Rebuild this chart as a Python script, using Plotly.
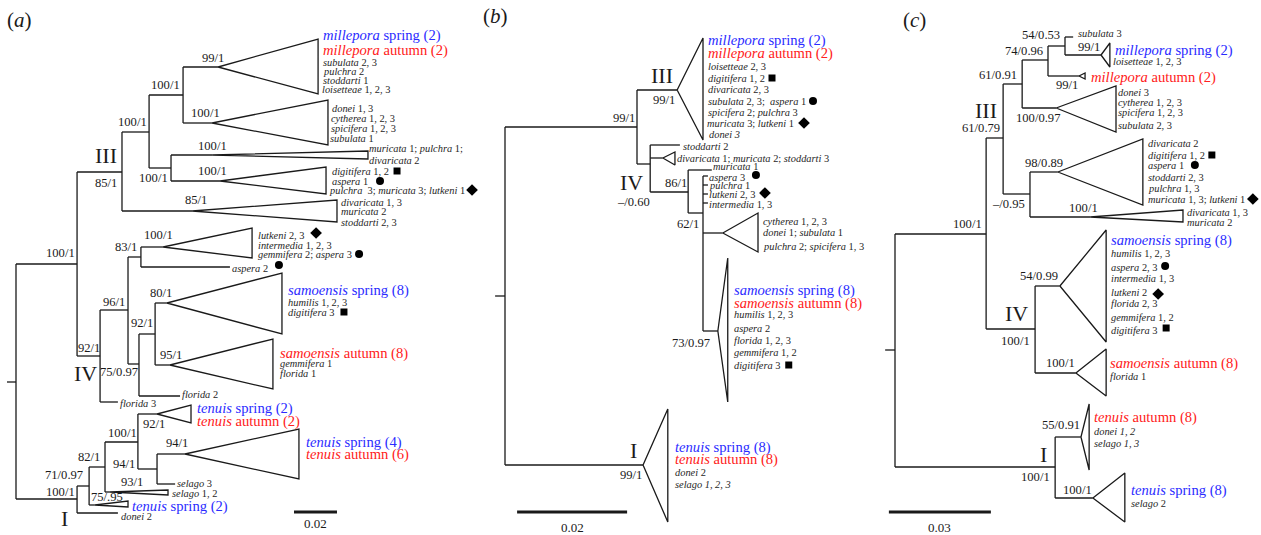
import plotly.graph_objects as go
from collections import defaultdict

FONT = "Liberation Serif, Times New Roman, serif"
BLUE = "#2b2bff"
RED = "#ff2020"
INK = "#1a1a1a"

# ---------------------------------------------------------------------------
# Panel (a) - node table: (id, parent, depth in substitutions/site, row)
A_NODES = [
    ("r", None, 0.0, 382),
    ("A1", "r", 0.0284, 264),
    ("III", "A1", 0.0493, 172),
    ("B", "III", 0.0619, 132),
    ("C", "B", 0.0777, 95),
    ("mil", "C", 0.0940, 67),
    ("don", "C", 0.0912, 123),
    ("D", "B", 0.0721, 168),
    ("mur", "D", 0.0912, 155),
    ("dig", "D", 0.0949, 181),
    ("div", "III", 0.0819, 211),
    ("E", "A1", 0.0391, 356),
    ("F", "E", 0.0521, 310),
    ("n83", "F", 0.0581, 257),
    ("lut", "n83", 0.0684, 247),
    ("asp2", "n83", 0.0995, 267),
    ("G", "F", 0.0572, 364),
    ("H", "G", 0.0647, 334),
    ("sams", "H", 0.0702, 303),
    ("sama", "H", 0.0716, 365),
    ("flo2", "G", 0.0763, 396),
    ("flo3", "E", 0.0474, 402),
    ("I", "r", 0.0284, 499),
    ("J", "I", 0.0340, 486),
    ("K", "J", 0.0414, 467),
    ("L", "K", 0.0567, 442),
    ("ten2", "L", 0.0656, 414),
    ("M", "L", 0.0656, 469),
    ("ten4", "M", 0.0786, 454),
    ("sel3", "M", 0.0740, 484),
    ("sel12", "K", 0.0437, 492),
    ("tsp2", "J", 0.0367, 505),
    ("don2", "I", 0.0474, 513),
]
# collapsed clades: (id, tip depth, top row, bottom row)
A_CLADES = [
    ("mil", 0.1405, 39, 94),
    ("don", 0.1451, 100, 145),
    ("mur", 0.1637, 151, 159),
    ("dig", 0.1442, 167, 194),
    ("div", 0.1493, 200, 222),
    ("lut", 0.1098, 228, 258),
    ("sams", 0.1237, 273, 334),
    ("sama", 0.1195, 339, 389),
    ("ten2", 0.0814, 405, 423),
    ("ten4", 0.1316, 429, 479),
    ("sel12", 0.0707, 490, 495),
    ("tsp2", 0.0521, 501, 507),
]
A_SUPPORT = [
    ("mil", "99/1", 6, -9), ("C", "100/1", -3, -10), ("don", "100/1", 8, -10),
    ("B", "100/1", -2, -10), ("III", "III", -5, -17), ("III", "85/1", -5, 11),
    ("mur", "100/1", 15, -9), ("D", "100/1", -3, 10), ("dig", "100/1", 7, -10),
    ("div", "85/1", 15, -11), ("A1", "100/1", -2, -11), ("n83", "83/1", -4, -10),
    ("lut", "100/1", 10, -12), ("F", "96/1", -3, -8), ("E", "92/1", 0, -8),
    ("E", "IV", -3, 17), ("G", "75/0.97", -1, 8), ("H", "92/1", -2, -11),
    ("sams", "80/1", 5, -10), ("sama", "95/1", 12, -10), ("I", "100/1", -2, -7),
    ("J", "71/0.97", -6, -11), ("I", "I", -9, 19), ("K", "82/1", -5, -10),
    ("L", "100/1", -1, -9), ("ten2", "92/1", 8, 10), ("M", "94/1", -22, -5),
    ("ten4", "94/1", 3, -11), ("sel12", "93/1", 33, -10), ("tsp2", "75/.95", 28, -8),
]
A_TIPS = [
    ("mil", "<i>millepora</i> spring (2)", 5, 35, "B"),
    ("mil", "<i>millepora</i> autumn (2)", 5, 50, "R"),
    ("mil", "<i>subulata</i> 2, 3", 5, 62, "s"),
    ("mil", "<i>pulchra</i> 2", 5, 71, "s"),
    ("mil", "<i>stoddarti</i> 1", 5, 80, "s"),
    ("mil", "<i>loisetteae</i> 1, 2, 3", 4, 89, "s"),
    ("don", "<i>donei</i> 1, 3", 4, 108, "s"),
    ("don", "<i>cytherea</i> 1, 2, 3", 3, 118, "s"),
    ("don", "<i>spicifera</i> 1, 2, 3", 3, 128, "s"),
    ("don", "<i>subulata</i> 1", 2, 138, "s"),
    ("mur", "<i>muricata</i> 1; <i>pulchra</i> 1;", 1, 148, "s"),
    ("mur", "<i>divaricata</i> 2", 1, 160, "s"),
    ("dig", "<i>digitifera</i> 1, 2", 6, 171, "s"),
    ("dig", "<i>aspera</i> 1", 6, 181, "s"),
    ("dig", "<i>pulchra</i>  3; <i>muricata</i> 3; <i>lutkeni</i> 1", 3, 190, "s"),
    ("div", "<i>divaricata</i> 1, 3", 4, 202, "s"),
    ("div", "<i>muricata</i> 2", 4, 211, "s"),
    ("div", "<i>stoddarti</i> 2, 3", 4, 222, "s"),
    ("lut", "<i>lutkeni</i> 2, 3", 6, 235, "s"),
    ("lut", "<i>intermedia</i> 1, 2, 3", 6, 245, "s"),
    ("lut", "<i>gemmifera</i> 2; <i>aspera</i> 3", 6, 254, "s"),
    ("asp2", "<i>aspera</i> 2", 2, 268, "s"),
    ("sams", "<i>samoensis</i> spring (8)", 6, 290, "B"),
    ("sams", "<i>humilis</i> 1, 2, 3", 6, 302, "s"),
    ("sams", "<i>digitifera</i> 3", 6, 312, "s"),
    ("sama", "<i>samoensis</i> autumn (8)", 7, 353, "R"),
    ("sama", "<i>gemmifera</i> 1", 7, 363, "s"),
    ("sama", "<i>florida</i> 1", 7, 373, "s"),
    ("flo2", "<i>florida</i> 2", 2, 394, "s"),
    ("flo3", "<i>florida</i> 3", 2, 403, "s"),
    ("ten2", "<i>tenuis</i> spring (2)", 6, 408, "B"),
    ("ten2", "<i>tenuis</i> autumn (2)", 6, 421, "R"),
    ("ten4", "<i>tenuis</i> spring (4)", 7, 442, "B"),
    ("ten4", "<i>tenuis</i> autumn (6)", 7, 454, "R"),
    ("sel3", "<i>selago</i> 3", 2, 483, "s"),
    ("sel12", "<i>selago</i> 1, 2", 4, 493, "s"),
    ("tsp2", "<i>tenuis</i> spring (2)", 4, 506, "B"),
    ("don2", "<i>donei</i> 2", 3, 516, "s"),
]
A_SYMBOLS = [
    ("dig", 71, 171, "square"), ("dig", 54, 181, "circle"), ("dig", 146, 190, "diamond"),
    ("lut", 64, 233, "diamond"), ("lut", 107, 254, "circle"),
    ("asp2", 49, 265, "circle"), ("sams", 62, 312, "square"),
]

# ---------------------------------------------------------------------------
# Panel (b)
B_NODES = [
    ("r", None, 0.0, 296),
    ("N", "r", 0.0240, 127),
    ("mil", "N", 0.0313, 90),
    ("O", "N", 0.0264, 164),
    ("sto2", "O", 0.0318, 145),
    ("divb", "O", 0.0287, 158),
    ("P", "O", 0.0333, 192),
    ("mur1", "P", 0.0376, 170),
    ("Q", "P", 0.0360, 213),
    ("asp3", "Q", 0.0369, 176),
    ("pul1", "Q", 0.0369, 185),
    ("lut23", "Q", 0.0369, 194),
    ("int13", "Q", 0.0369, 203),
    ("cyt", "Q", 0.0396, 233),
    ("sam", "Q", 0.0387, 331),
    ("ten", "r", 0.0251, 465),
]
B_CLADES = [
    ("mil", 0.0360, 38, 140),
    ("divb", 0.0309, 152, 165),
    ("cyt", 0.0460, 213, 252),
    ("sam", 0.0405, 258, 402),
    ("ten", 0.0296, 409, 522),
]
B_SUPPORT = [
    ("N", "99/1", -2, -9), ("mil", "III", -4, -15), ("mil", "99/1", -2, 10),
    ("O", "IV", -7, 18), ("O", "\u2013/0.60", 0, 38), ("P", "86/1", -1, -9),
    ("Q", "62/1", -4, 11), ("sam", "73/0.97", -8, 12), ("ten", "I", -6, -15),
    ("ten", "99/1", -1, 10),
]
B_TIPS = [
    ("mil", "<i>millepora</i> spring (2)", 5, 40, "B"),
    ("mil", "<i>millepora</i> autumn (2)", 5, 53, "R"),
    ("mil", "<i>loisetteae</i> 2, 3", 5, 66, "s"),
    ("mil", "<i>digitifera</i> 1, 2", 5, 78, "s"),
    ("mil", "<i>divaricata</i> 2, 3", 5, 89, "s"),
    ("mil", "<i>subulata</i> 2, 3;  <i>aspera</i> 1", 5, 101, "s"),
    ("mil", "<i>spicifera</i> 2; <i>pulchra</i> 3", 5, 112, "s"),
    ("mil", "<i>muricata</i> 3; <i>lutkeni</i> 1", 4, 123, "s"),
    ("mil", "<i>donei 3</i>", 6, 134, "s"),
    ("sto2", "<i>stoddarti</i> 2", 3, 146, "s"),
    ("divb", "<i>divaricata</i> 1; <i>muricata</i> 2; <i>stoddarti</i> 3", 2, 158, "s"),
    ("mur1", "<i>muricata</i> 1", 1, 166, "s"),
    ("asp3", "<i>aspera</i> 3", 1, 177, "s"),
    ("pul1", "<i>pulchra</i> 1", 1, 185, "s"),
    ("lut23", "<i>lutkeni</i> 2, 3", 1, 194, "s"),
    ("int13", "<i>intermedia</i> 1, 3", 1, 204, "s"),
    ("cyt", "<i>cytherea</i> 1, 2, 3", 5, 221, "s"),
    ("cyt", "<i>donei</i> 1; <i>subulata</i> 1", 5, 232, "s"),
    ("cyt", "<i>pulchra</i> 2; <i>spicifera</i> 1, 3", 5, 246, "s"),
    ("sam", "<i>samoensis</i> spring (8)", 6, 290, "B"),
    ("sam", "<i>samoensis</i> autumn (8)", 6, 303, "R"),
    ("sam", "<i>humilis</i> 1, 2, 3", 6, 314, "s"),
    ("sam", "<i>aspera</i> 2", 6, 328, "s"),
    ("sam", "<i>florida</i> 1, 2, 3", 6, 340, "s"),
    ("sam", "<i>gemmifera</i> 1, 2", 6, 352, "s"),
    ("sam", "<i>digitifera</i> 3", 6, 365, "s"),
    ("ten", "<i>tenuis</i> spring (8)", 7, 447, "B"),
    ("ten", "<i>tenuis</i> autumn (8)", 7, 459, "R"),
    ("ten", "<i>donei</i> 2", 7, 472, "s"),
    ("ten", "<i>selago 1, 2, 3</i>", 7, 484, "s"),
]
B_SYMBOLS = [
    ("mil", 69, 78, "square"), ("mil", 110, 101, "circle"), ("mil", 101, 123, "diamond"),
    ("asp3", 48, 175, "circle"), ("lut23", 57, 193, "diamond"), ("sam", 61, 365, "square"),
]

# ---------------------------------------------------------------------------
# Panel (c)
C_NODES = [
    ("r", None, 0.0, 350),
    ("R", "r", 0.0268, 234),
    ("S", "R", 0.0318, 138),
    ("T", "S", 0.0374, 84),
    ("U", "T", 0.0450, 60),
    ("V", "U", 0.0500, 46),
    ("sub3", "V", 0.0524, 37),
    ("mils", "V", 0.0606, 55),
    ("mila", "U", 0.0541, 76),
    ("donc", "T", 0.0474, 108),
    ("W", "S", 0.0397, 194),
    ("divc", "W", 0.0479, 172),
    ("divm", "W", 0.0574, 217),
    ("X", "R", 0.0412, 329),
    ("samsc", "X", 0.0485, 286),
    ("samac", "X", 0.0532, 373),
    ("Y", "r", 0.0471, 467),
    ("tenac", "Y", 0.0547, 437),
    ("tensc", "Y", 0.0582, 498),
]
C_CLADES = [
    ("mils", 0.0632, 43, 67),
    ("mila", 0.0559, 73, 79),
    ("donc", 0.0650, 86, 132),
    ("divc", 0.0729, 139, 205),
    ("divm", 0.0847, 210, 222),
    ("samsc", 0.0621, 230, 342),
    ("samac", 0.0621, 349, 396),
    ("tenac", 0.0571, 404, 470),
    ("tensc", 0.0676, 473, 522),
]
C_SUPPORT = [
    ("R", "100/1", -4, -10), ("S", "III", -6, -28), ("S", "61/0.79", -3, -10),
    ("T", "61/0.91", -5, -9), ("U", "74/0.96", -5, -9), ("V", "54/0.53", -5, -11),
    ("mils", "99/1", -1, -8), ("mila", "99/1", -1, 9), ("donc", "100/0.97", 4, 10),
    ("W", "\u2013/0.95", -5, 10), ("divc", "98/0.89", 5, -9), ("divm", "100/1", 8, -9),
    ("X", "IV", -7, -16), ("X", "100/1", -5, 12), ("samsc", "54/0.99", -2, -10),
    ("samac", "100/1", -1, -10), ("Y", "I", -8, -13), ("Y", "100/1", -5, 10),
    ("tenac", "55/0.91", -1, -12), ("tensc", "100/1", -1, -8),
]
C_TIPS = [
    ("sub3", "<i>subulata</i> 3", 5, 33, "s"),
    ("mils", "<i>millepora</i> spring (2)", 5, 50, "B"),
    ("mils", "<i>loisetteae</i> 1, 2, 3", 3, 61, "s"),
    ("mila", "<i>millepora</i> autumn (2)", 6, 77, "R"),
    ("donc", "<i>donei</i> 3", 2, 92, "s"),
    ("donc", "<i>cytherea</i> 1, 2, 3", 2, 102, "s"),
    ("donc", "<i>spicifera</i> 1, 2, 3", 2, 112, "s"),
    ("donc", "<i>subulata</i> 2, 3", 2, 125, "s"),
    ("divc", "<i>divaricata</i> 2", 5, 143, "s"),
    ("divc", "<i>digitifera</i> 1, 2", 5, 155, "s"),
    ("divc", "<i>aspera</i> 1", 5, 165, "s"),
    ("divc", "<i>stoddarti</i> 2, 3", 5, 177, "s"),
    ("divc", "<i>pulchra</i> 1, 3", 5, 188, "s"),
    ("divc", "<i>muricata</i> 1, 3; <i>lutkeni</i> 1", 5, 199, "s"),
    ("divm", "<i>divaricata</i> 1, 3", 4, 212, "s"),
    ("divm", "<i>muricata</i> 2", 4, 222, "s"),
    ("samsc", "<i>samoensis</i> spring (8)", 5, 240, "B"),
    ("samsc", "<i>humilis</i> 1, 2, 3", 5, 253, "s"),
    ("samsc", "<i>aspera</i> 2, 3", 5, 267, "s"),
    ("samsc", "<i>intermedia</i> 1, 3", 5, 278, "s"),
    ("samsc", "<i>lutkeni</i> 2", 5, 292, "s"),
    ("samsc", "<i>florida</i> 2, 3", 5, 303, "s"),
    ("samsc", "<i>gemmifera</i> 1, 2", 5, 317, "s"),
    ("samsc", "<i>digitifera</i> 3", 5, 330, "s"),
    ("samac", "<i>samoensis</i> autumn (8)", 4, 363, "R"),
    ("samac", "<i>florida</i> 1", 4, 376, "s"),
    ("tenac", "<i>tenuis</i> autumn (8)", 5, 417, "R"),
    ("tenac", "<i>donei 1, 2</i>", 5, 431, "s"),
    ("tenac", "<i>selago 1, 3</i>", 5, 443, "s"),
    ("tensc", "<i>tenuis</i> spring (8)", 6, 490, "B"),
    ("tensc", "<i>selago</i> 2", 6, 503, "s"),
]
C_SYMBOLS = [
    ("divc", 69, 155, "square"), ("divc", 52, 165, "circle"), ("divc", 110, 199, "diamond"),
    ("samsc", 59, 266, "circle"), ("samsc", 52, 294, "diamond"), ("samsc", 60, 328, "square"),
]

# scale bars: (start depth, length, label)
SCALE_BARS = [(0.1293, 0.02, "0.02"), (0.0022, 0.02, "0.02"), (-0.0018, 0.03, "0.03")]
ROOT_STUBS = [0.0042, 0.0018, 0.0029]
PANEL_LETTERS = ["a", "b", "c"]

# ---------------------------------------------------------------------------
W, H = 1261, 535
# horizontal placement of each panel: pixel column of the root, pixels per unit
PANEL_GEOM = [(16, 2150.0), (505, 5500.0), (895, 3400.0)]
BAR_ROWS = [(512, 523), (512, 527), (512, 527)]
LETTER_POS = [(7, 20), (483, 16), (903, 20)]

SIZES = {"B": 14.6, "R": 14.6, "s": 10.4}
COLORS = {"B": BLUE, "R": RED, "s": "#262626"}
ROMAN = {"I", "III", "IV"}

fig = go.Figure()


def draw_panel(k, nodes, clades, support, tips, symbols):
    xref = "x" if k == 0 else f"x{k + 1}"
    root_px, ppu = PANEL_GEOM[k]
    depth = {n[0]: n[2] for n in nodes}
    row = {n[0]: n[3] for n in nodes}
    tip = dict(depth)
    for cid, t, _, _ in clades:
        tip[cid] = t

    xs, ys = [], []
    kids = defaultdict(list)
    for nid, parent, d, y in nodes:
        if parent is None:
            xs += [-ROOT_STUBS[k], d, None]
            ys += [y, y, None]
            continue
        xs += [depth[parent], d, None]
        ys += [y, y, None]
        kids[parent].append(y)
    for pid, cy in kids.items():
        xs += [depth[pid], depth[pid], None]
        ys += [min(cy), max(cy), None]
    for cid, t, top, bot in clades:
        xs += [depth[cid], t, t, depth[cid], None]
        ys += [row[cid], top, bot, row[cid], None]
    fig.add_trace(go.Scatter(x=xs, y=ys, mode="lines", xaxis=xref, yaxis="y",
                             line=dict(color=INK, width=1.3), hoverinfo="skip",
                             showlegend=False))

    # scale bar
    x0, length, lab = SCALE_BARS[k]
    bar_y, lab_y = BAR_ROWS[k]
    fig.add_trace(go.Scatter(x=[x0, x0 + length], y=[bar_y, bar_y], mode="lines",
                             xaxis=xref, yaxis="y", line=dict(color=INK, width=3),
                             hoverinfo="skip", showlegend=False))
    fig.add_annotation(x=x0 + length / 2, y=lab_y, xref=xref, yref="y", text=lab,
                       showarrow=False, xanchor="center", yanchor="middle",
                       font=dict(family=FONT, size=13, color=INK))

    # tip symbols
    for shape in ("square", "circle", "diamond"):
        pts = [(tip[n] + dx / ppu, y) for n, dx, y, s in symbols if s == shape]
        if not pts:
            continue
        size = {"square": 7, "circle": 8, "diamond": 9}[shape]
        fig.add_trace(go.Scatter(x=[p[0] for p in pts], y=[p[1] for p in pts],
                                 mode="markers", xaxis=xref, yaxis="y",
                                 marker=dict(symbol=shape, size=size, color="black",
                                             line=dict(width=0)),
                                 hoverinfo="skip", showlegend=False))

    # support values and clade numerals
    for nid, text, dx, dy in support:
        big = text in ROMAN
        fig.add_annotation(x=depth[nid], y=row[nid], xref=xref, yref="y", text=text,
                           showarrow=False, xanchor="right", yanchor="middle",
                           xshift=dx, yshift=-dy, borderpad=0, borderwidth=0,
                           font=dict(family=FONT, size=22 if big else 12.6, color=INK))

    # tip labels
    for nid, text, dx, y, style in tips:
        fig.add_annotation(x=tip[nid], y=y, xref=xref, yref="y", text=text,
                           showarrow=False, xanchor="left", yanchor="middle",
                           xshift=dx, borderpad=0, borderwidth=0,
                           font=dict(family=FONT, size=SIZES[style], color=COLORS[style]))

    lx, ly = LETTER_POS[k]
    fig.add_annotation(x=lx / W, y=1 - ly / H, xref="paper", yref="paper",
                       text=f"(<i>{PANEL_LETTERS[k]}</i>)", showarrow=False,
                       xanchor="left", yanchor="middle", borderpad=0, borderwidth=0,
                       font=dict(family=FONT, size=21, color=INK))


draw_panel(0, A_NODES, A_CLADES, A_SUPPORT, A_TIPS, A_SYMBOLS)
draw_panel(1, B_NODES, B_CLADES, B_SUPPORT, B_TIPS, B_SYMBOLS)
draw_panel(2, C_NODES, C_CLADES, C_SUPPORT, C_TIPS, C_SYMBOLS)

axis_common = dict(visible=False, showgrid=False, zeroline=False, domain=[0, 1])
layout_axes = {}
for k, (root_px, ppu) in enumerate(PANEL_GEOM):
    name = "xaxis" if k == 0 else f"xaxis{k + 1}"
    r0 = -root_px / ppu
    ax = dict(axis_common, range=[r0, r0 + W / ppu], anchor="y")
    if k:
        ax["overlaying"] = "x"
    layout_axes[name] = ax

fig.update_layout(
    width=W, height=H,
    margin=dict(l=0, r=0, t=0, b=0),
    paper_bgcolor="white", plot_bgcolor="white",
    yaxis=dict(visible=False, range=[H, 0], domain=[0, 1], showgrid=False, zeroline=False),
    font=dict(family=FONT, color=INK),
    **layout_axes,
)

fig.write_html("out.html")
